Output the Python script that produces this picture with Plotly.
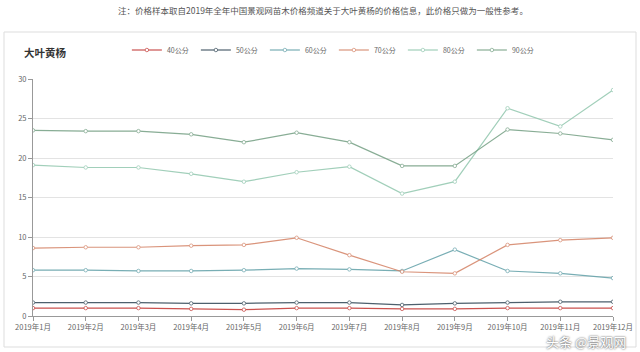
import plotly.graph_objects as go

months = ["2019年1月", "2019年2月", "2019年3月", "2019年4月", "2019年5月", "2019年6月",
          "2019年7月", "2019年8月", "2019年9月", "2019年10月", "2019年11月", "2019年12月"]

s40 = [1.0, 1.0, 1.0, 0.9, 0.8, 1.0, 1.0, 0.9, 0.9, 1.0, 1.0, 1.0]
s50 = [1.7, 1.7, 1.7, 1.6, 1.6, 1.7, 1.7, 1.4, 1.6, 1.7, 1.8, 1.8]
s60 = [5.8, 5.8, 5.7, 5.7, 5.8, 6.0, 5.9, 5.7, 8.4, 5.7, 5.4, 4.8]
s70 = [8.6, 8.7, 8.7, 8.9, 9.0, 9.9, 7.7, 5.6, 5.4, 9.0, 9.6, 9.9]
s80 = [19.1, 18.8, 18.8, 18.0, 17.0, 18.2, 18.9, 15.5, 17.0, 26.3, 24.0, 28.6]
s90 = [23.5, 23.4, 23.4, 23.0, 22.0, 23.2, 22.0, 19.0, 19.0, 23.6, 23.1, 22.3]

names = ["40公分", "50公分", "60公分", "70公分", "80公分", "90公分"]
series = [s40, s50, s60, s70, s80, s90]
colors = ["#c23531", "#2f4554", "#61a0a8", "#d48265", "#91c7ae", "#749f83"]

FONT = "Noto Sans CJK SC, sans-serif"

fig = go.Figure()
for n, s, c in zip(names, series, colors):
    fig.add_trace(go.Scatter(
        x=months, y=s, name=n, mode="lines+markers",
        line=dict(color=c, width=1.2),
        opacity=0.85,
        marker=dict(symbol="circle", size=3.5, color="white", line=dict(color=c, width=0.8)),
    ))

ph = 352 - 79 - 36
pw = 640 - 33 - 27
def py(pix):
    return (352 - 36 - pix) / ph
def px(pix):
    return (pix - 33) / pw

fig.update_layout(
    width=640, height=352,
    margin=dict(l=33, r=27, t=79, b=36, autoexpand=False),
    paper_bgcolor="white", plot_bgcolor="white",
    font=dict(family=FONT, size=8, color="#666"),
    showlegend=True,
    legend=dict(orientation="h", x=332 / 640, xanchor="center",
                y=1 - 50 / 352, yanchor="middle", yref="container",
                font=dict(size=7, color="#666"),
                itemwidth=30, tracegroupgap=0, entrywidth=24, bgcolor="rgba(0,0,0,0)"),
    xaxis=dict(type="category", range=[0, 11], showgrid=False, showline=True,
               linecolor="#999", linewidth=1, ticks="outside", ticklen=4, tickcolor="#999",
               tickfont=dict(size=7.5, color="#666"), zeroline=False, tickangle=0,
               automargin=False),
    yaxis=dict(range=[0, 30], dtick=5, showgrid=True, gridcolor="#e3e3e3",
               showline=True, linecolor="#999", linewidth=1, ticks="outside",
               ticklen=4, tickcolor="#999", tickfont=dict(size=7.5, color="#666"),
               zeroline=False, automargin=False),
    shapes=[dict(type="rect", xref="paper", yref="paper", x0=px(4), x1=px(636),
                 y0=py(347), y1=py(32), line=dict(color="#dddddd", width=1), layer="below")],
    annotations=[
        dict(text="注：价格样本取自2019年全年中国景观网苗木价格频道关于大叶黄杨的价格信息，此价格只做为一般性参考。",
             xref="paper", yref="paper", x=0.5, y=py(10), xanchor="center", yanchor="middle",
             showarrow=False, font=dict(size=8.5, color="#555")),
        dict(text="<b>大叶黄杨</b>", xref="paper", yref="paper", x=px(22), y=py(52),
             xanchor="left", yanchor="middle", showarrow=False,
             font=dict(size=10.5, color="#333")),
        dict(text="头条 @景观网", xref="paper", yref="paper", x=px(628), y=py(341),
             xanchor="right", yanchor="middle", showarrow=False,
             font=dict(size=13, color="#ffffff", shadow="0px 0px 2px #222")),
    ],
)

fig.write_html("out.html")
